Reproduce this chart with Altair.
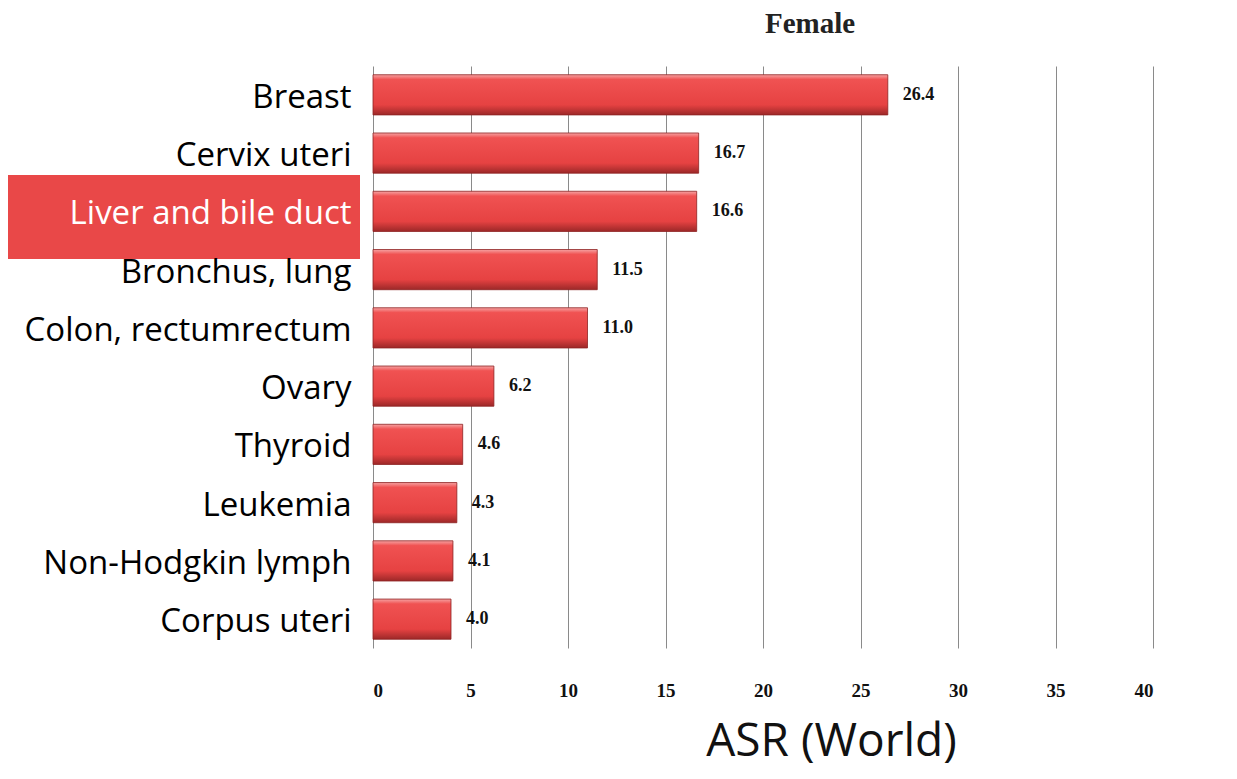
import altair as alt
import pandas as pd

sites = ["Breast", "Cervix uteri", "Liver and bile duct", "Bronchus, lung",
         "Colon, rectumrectum", "Ovary", "Thyroid", "Leukemia",
         "Non-Hodgkin lymph", "Corpus uteri"]
asr = [26.4, 16.7, 16.6, 11.5, 11.0, 6.2, 4.6, 4.3, 4.1, 4.0]
x_ticks = [0, 5, 10, 15, 20, 25, 30, 35, 40]
highlight = "Liver and bile duct"

df = pd.DataFrame({"site": sites, "asr": asr})

W, H = 780, 582

gradient = alt.Gradient(
    gradient="linear", x1=0, x2=0, y1=0, y2=1,
    stops=[
        alt.GradientStop(offset=0, color="#f6a3a3"),
        alt.GradientStop(offset=0.12, color="#f05252"),
        alt.GradientStop(offset=0.75, color="#e64242"),
        alt.GradientStop(offset=1, color="#9c2828"),
    ],
)

y_enc = alt.Y(
    "site:N", sort=sites, title=None,
    scale=alt.Scale(paddingInner=0.31, paddingOuter=0.15),
    axis=alt.Axis(
        labelFont="Open Sans", labelFontSize=33, labelPadding=22,
        labelColor=alt.expr(f"datum.value == '{highlight}' ? 'white' : 'black'"),
        labelBaseline="middle", labelOffset=3,
        domain=False, ticks=False, labelLimit=400, zindex=2,
    ),
)

x_enc = alt.X(
    "asr:Q", title="ASR (World)",
    scale=alt.Scale(domain=[0, 40], nice=False),
    axis=alt.Axis(
        values=x_ticks, grid=True, gridColor="#8a8a8a", gridWidth=1,
        domain=False, ticks=False,
        labelFont="Liberation Serif", labelFontWeight="bold", labelFontSize=19,
        labelPadding=33, labelColor="#111",
        titleFont="Open Sans", titleFontSize=46, titleFontWeight="normal",
        titleColor="#111", titleX=458, titleY=93, titleBaseline="middle",
    ),
)

hl = alt.Chart(pd.DataFrame({"site": [highlight]})).mark_rect(color="#e94848").encode(
    x=alt.value(-365), x2=alt.value(-13),
    y=alt.value(109), y2=alt.value(193),
)

bars = alt.Chart(df).mark_bar(
    fill=gradient, stroke="#8e2222", strokeWidth=0.8, cornerRadius=0
).encode(x=x_enc, y=y_enc)

labels = alt.Chart(df).mark_text(
    align="left", baseline="middle", dx=15,
    font="Liberation Serif", fontWeight="bold", fontSize=18, color="#111",
).encode(x="asr:Q", y=alt.Y("site:N", sort=sites), text=alt.Text("asr:Q", format=".1f"))

chart = alt.layer(hl, bars, labels).properties(
    width=W, height=H,
    title=alt.TitleParams(
        "Female", anchor="middle", dx=47, offset=27,
        font="Liberation Serif", fontSize=29, fontWeight="bold", color="#222",
    ),
    padding={"left": 365, "top": 58, "right": 70, "bottom": 123},
    autosize="none",
).configure_view(stroke=None)

chart.save("out.html", embed_options={"renderer": "svg", "actions": False})
